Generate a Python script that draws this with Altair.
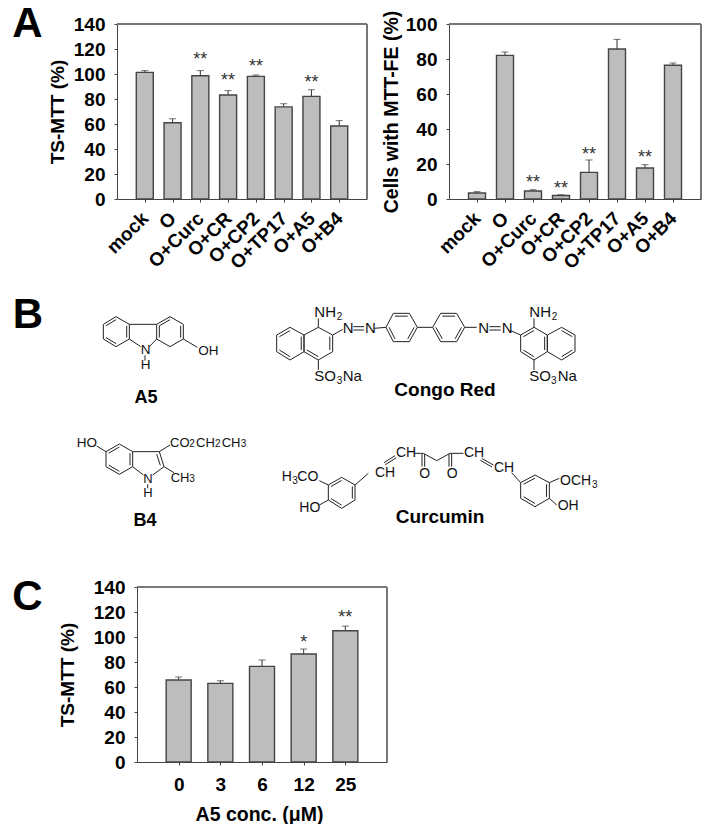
import altair as alt
import pandas as pd

# ---------- chart data ----------
TREATMENTS = ["mock", "O", "O+Curc", "O+CR", "O+CP2", "O+TP17", "O+A5", "O+B4"]
A1_VALUES = [101.3, 61.0, 98.6, 83.2, 98.1, 73.7, 82.1, 58.4]
A1_UPPER = [102.7, 64.2, 102.7, 86.7, 99.2, 76.2, 87.4, 62.7]
A1_STARS = {"O+Curc": 114.4, "O+CR": 97.6, "O+CP2": 109.0, "O+A5": 96.0}

A2_VALUES = [3.4, 82.1, 4.6, 2.0, 15.2, 85.7, 17.7, 76.4]
A2_UPPER = [4.2, 84.0, 5.3, 2.4, 22.3, 91.2, 19.6, 77.7]
A2_STARS = {"O+Curc": 11.4, "O+CR": 8.0, "O+CP2": 27.4, "O+A5": 25.7}

DOSES = ["0", "3", "6", "12", "25"]
C_VALUES = [65.6, 62.9, 76.5, 86.4, 105.0]
C_UPPER = [68.0, 65.0, 81.6, 90.4, 108.7]
C_STARS = {"12": (98.4, "*"), "25": (118.4, "**")}

W, H = 702, 816
FONT = "Liberation Sans"
INK = "#111111"
LINE = "#444444"
FRAME = "#777777"


def cx(v):
    return v - 8


def panel(cats, vals, upper, stars, ymax, ystep, box, barw, ytitle, xtitle, angle, ytx, ytsize):
    left, right, top, bottom = box
    df = pd.DataFrame({"c": cats, "v": vals, "u": upper})
    sd = pd.DataFrame(
        [{"c": k, "s": (s[0] if isinstance(s, tuple) else s),
          "t": (s[1] if isinstance(s, tuple) else "**")} for k, s in stars.items()]
    )
    xscale = alt.Scale(type="point", domain=cats, padding=1, range=[cx(left), cx(right)])
    yscale = alt.Scale(domain=[0, ymax], nice=False, range=[cx(bottom), cx(top)])
    xaxis = dict(
        orient="bottom", offset=-(H - cx(bottom)), labelFont=FONT, labelFontWeight="bold",
        labelFontSize=19, labelColor="black", tickColor=LINE, domainColor=LINE, tickSize=3,
        grid=False, labelOverlap=False, labelFlush=False, titleFont=FONT, titleFontWeight="bold",
        titleFontSize=19.5, titleColor="black",
    )
    if angle:
        xaxis.update(labelAngle=angle, labelAlign="right", labelBaseline="middle", labelPadding=13)
    else:
        xaxis.update(labelAngle=0, labelAlign="center", labelBaseline="top", labelPadding=10, titlePadding=11, titleX=-3 + (left + right) / 2 - 8)
    x = alt.X("c:N", scale=xscale, title=xtitle, axis=alt.Axis(**xaxis))
    y = alt.Y(
        "v:Q", scale=yscale, title=ytitle,
        axis=alt.Axis(
            orient="left", offset=-cx(left), values=list(range(0, ymax + 1, ystep)), labelFont=FONT,
            labelFontWeight="bold", labelFontSize=19, labelColor="black", tickColor=LINE,
            domainColor=LINE, tickSize=3, labelPadding=9, grid=False, labelFlush=False,
            titleFont=FONT, titleFontWeight="bold", titleFontSize=ytsize, titleColor="black",
            titleX=ytx,
        ),
    )
    base = alt.Chart(df)
    err = base.mark_rule(color="#333333", strokeWidth=1).encode(x=x, y=y, y2="u:Q")
    bars = base.mark_bar(size=barw, color="#bdbdbd", stroke="#444444", strokeWidth=1.4).encode(x=x, y=y)
    caps = base.mark_tick(color="#333333", size=7, thickness=1).encode(x=x, y=alt.Y("u:Q", scale=yscale))
    txt = alt.Chart(sd).mark_text(font=FONT, fontSize=18, color="#333333", baseline="middle", dy=4).encode(
        x=alt.X("c:N", scale=xscale), y=alt.Y("s:Q", scale=yscale), text="t:N"
    )
    frame_t = base.mark_rule(color=FRAME, strokeWidth=1).encode(
        x=alt.value(cx(left)), x2=alt.value(cx(right)), y=alt.value(cx(top))
    )
    frame_r = base.mark_rule(color=FRAME, strokeWidth=1.5).encode(
        x=alt.value(cx(right)), y=alt.value(cx(top)), y2=alt.value(cx(bottom))
    )
    return alt.layer(err, bars, caps, txt, frame_t, frame_r)


# ---------- chemical structures ----------
def ring(p):
    return [p[i] + p[(i + 1) % len(p)] for i in range(len(p))]


def inner(p, q, c, f=0.2):
    def pull(a):
        return a[0] + (c[0] - a[0]) * f, a[1] + (c[1] - a[1]) * f
    a, b = pull(p), pull(q)
    return (a[0], a[1], b[0], b[1])


def hexagon(p, dbl):
    c = (sum(a[0] for a in p) / 6, sum(a[1] for a in p) / 6)
    return ring(p) + [inner(p[i], p[(i + 1) % 6], c) for i in dbl]


A5_L = [(310, 103), (348, 80), (388, 103), (388, 147), (348, 170), (310, 147)]
A5_R = [(470, 103), (510, 80), (550, 103), (550, 147), (510, 170), (470, 147)]
B4_R = [(318, 485), (358, 462), (398, 485), (398, 530), (358, 553), (318, 530)]
S3_BONDS = (
    hexagon(A5_L, [0, 2, 4]) + hexagon(A5_R, [0, 2, 5])
    + [(388, 103, 470, 103), (388, 147, 422, 170), (470, 147, 448, 170),
       (550, 147, 592, 172), (435, 196, 435, 212)]
    + hexagon(B4_R, [0, 2, 4])
    + [(398, 485, 478, 485), (478, 485, 492, 530), (470, 492, 481, 526), (398, 530, 430, 555),
       (492, 530, 458, 555), (318, 485, 290, 468), (478, 485, 510, 465), (492, 530, 522, 548),
       (443, 583, 443, 595)]
)
CR_A = [(50, 135), (90, 112), (132, 135), (132, 185), (90, 210), (50, 185)]
CR_B = [(132, 135), (175, 112), (218, 135), (218, 185), (175, 210), (132, 185)]
CR_C = [(378, 112), (400, 70), (448, 70), (472, 112), (448, 155), (400, 155)]
CR_D = [(518, 112), (542, 70), (590, 70), (614, 112), (590, 155), (542, 155)]
CR_E = [(782, 135), (822, 112), (862, 135), (862, 185), (822, 210), (782, 185)]
CR_F = [(862, 135), (905, 112), (945, 135), (945, 185), (905, 210), (862, 185)]
CU_A = [(205, 585), (245, 562), (285, 585), (285, 630), (245, 655), (205, 630)]
CU_B = [(782, 578), (825, 555), (868, 578), (868, 625), (825, 650), (782, 625)]
S4_BONDS = (
    hexagon(CR_A, [0, 2, 4]) + hexagon(CR_B, [2, 4]) + hexagon(CR_C, [1, 3, 5])
    + hexagon(CR_D, [1, 3, 5]) + hexagon(CR_E, [0, 2, 4])[:9] + hexagon(CR_F, [1, 3])
    + [(175, 112, 175, 85), (175, 210, 175, 240), (218, 135, 248, 118), (280, 110, 312, 110),
       (280, 120, 312, 120), (343, 115, 378, 112), (472, 112, 518, 112), (614, 112, 650, 112),
       (688, 110, 722, 110), (688, 120, 722, 120), (752, 122, 782, 135), (822, 112, 822, 85),
       (822, 210, 822, 240)]
    + hexagon(CU_A, [0, 2, 4]) + hexagon(CU_B, [0, 2, 4])
    + [(205, 585, 178, 572), (205, 630, 178, 645), (285, 585, 325, 550), (372, 518, 405, 497),
       (376, 524, 409, 503), (465, 490, 490, 490), (490, 490, 530, 512), (530, 512, 570, 490),
       (486, 492, 486, 530), (494, 492, 494, 530), (567, 492, 567, 530), (575, 492, 575, 530),
       (570, 490, 610, 490), (665, 505, 700, 525), (661, 511, 696, 531), (755, 548, 782, 578),
       (868, 578, 898, 565), (868, 625, 890, 645)]
)
S3_LABELS = [
    ("N", 422, 180, 13.5), ("H", 422, 226, 13.5), ("OH", 595, 183, 13.5), ("HO", 230, 460, 13.5),
    ("CO", 510, 460, 13), ("2", 568, 463, 10), ("CH", 588, 460, 13), ("2", 645, 463, 10),
    ("CH", 665, 460, 13), ("3", 722, 463, 10), ("N", 430, 566, 13), ("H", 430, 609, 13),
    ("CH", 512, 563, 13), ("3", 568, 566, 10),
]
S4_LABELS = [
    ("NH", 163, 65, 15), ("2", 230, 80, 10), ("N", 248, 115, 15), ("N", 315, 115, 15),
    ("SO", 163, 258, 15), ("3", 230, 272, 10), ("Na", 248, 258, 15), ("NH", 808, 65, 15),
    ("2", 875, 80, 10), ("N", 655, 115, 15), ("N", 725, 115, 15), ("SO", 808, 258, 15),
    ("3", 873, 272, 10), ("Na", 893, 258, 15), ("H", 65, 562, 14), ("3", 97, 572, 10),
    ("CO", 112, 562, 14), ("HO", 118, 655, 14), ("CH", 345, 548, 14), ("CH", 408, 490, 14),
    ("O", 478, 552, 14), ("O", 560, 552, 14), ("CH", 612, 490, 14), ("CH", 702, 533, 14),
    ("OCH", 900, 572, 14), ("3", 996, 585, 10), ("OH", 893, 648, 14),
]
BOLD_LABELS = [
    ("A", 27.5, 23.5, 42), ("B", 28, 315, 42), ("C", 27.5, 597, 42),
    ("A5", 146, 398, 18), ("B4", 145, 521, 18), ("Congo Red", 445, 390, 19), ("Curcumin", 440, 517, 19),
]

bond_rows = [dict(x=a / 3, y=b / 3 + 290, x2=c / 3, y2=d / 3 + 290) for a, b, c, d in S3_BONDS]
bond_rows += [dict(x=a / 3 + 260, y=b / 3 + 290, x2=c / 3 + 260, y2=d / 3 + 290) for a, b, c, d in S4_BONDS]
label_rows = [dict(t=t, x=a / 3, y=b / 3 + 290, s=s) for t, a, b, s in S3_LABELS]
label_rows += [dict(t=t, x=a / 3 + 260, y=b / 3 + 290, s=s) for t, a, b, s in S4_LABELS]
bold_rows = [dict(t=t, x=a, y=b, s=s) for t, a, b, s in BOLD_LABELS]

ix = alt.Scale(domain=[8, 8 + W], range=[0, W], nice=False, zero=False)
iy = alt.Scale(domain=[8, 8 + H], range=[0, H], nice=False, zero=False)
bonds = alt.Chart(pd.DataFrame(bond_rows)).mark_rule(color="#222222", strokeWidth=1).encode(
    x=alt.X("x:Q", scale=ix, axis=None), y=alt.Y("y:Q", scale=iy, axis=None), x2="x2:Q", y2="y2:Q"
)
labels = alt.Chart(pd.DataFrame(label_rows)).mark_text(font=FONT, color=INK, align="left", baseline="middle").encode(
    x=alt.X("x:Q", scale=ix, axis=None), y=alt.Y("y:Q", scale=iy, axis=None),
    text="t:N", size=alt.Size("s:Q", scale=None, legend=None),
)
bold = alt.Chart(pd.DataFrame(bold_rows)).mark_text(font=FONT, fontWeight="bold", color="black", align="center", baseline="middle").encode(
    x=alt.X("x:Q", scale=ix, axis=None), y=alt.Y("y:Q", scale=iy, axis=None),
    text="t:N", size=alt.Size("s:Q", scale=None, legend=None),
)
structures = alt.layer(bonds, labels, bold)

a1 = panel(TREATMENTS, A1_VALUES, A1_UPPER, A1_STARS, 140, 20, (117, 367, 24, 199), 17, "TS-MTT (%)", None, 315, -50, 19)
a2 = panel(TREATMENTS, A2_VALUES, A2_UPPER, A2_STARS, 100, 20, (449, 701, 24, 199), 17, "Cells with MTT-FE (%)", None, 315, -48, 19.5)
c = panel(DOSES, C_VALUES, C_UPPER, C_STARS, 140, 20, (137, 387, 587, 762), 25, "TS-MTT (%)", "A5 conc. (\u03bcM)", 0, -60, 19)

chart = (
    alt.layer(a1, a2, c, structures)
    .resolve_scale(x="independent", y="independent", size="independent")
    .resolve_axis(x="independent", y="independent")
    .properties(width=W, height=H, padding=0, autosize=alt.AutoSizeParams(type="none"), background="white")
    .configure_view(stroke=None)
)
chart.save("out.html", embed_options={"renderer": "svg", "actions": False})
